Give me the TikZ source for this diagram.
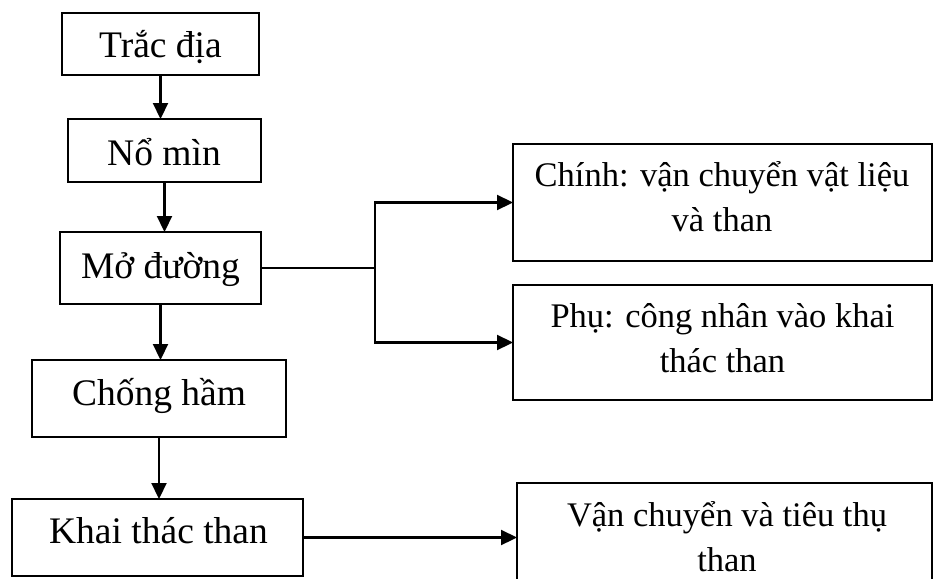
\documentclass[tikz,border=0pt]{standalone}
\usepackage{fontspec}
\setmainfont{Liberation Serif}
\usetikzlibrary{arrows.meta}
\begin{document}
\begin{tikzpicture}[x=1pt,y=-1pt,
  box/.style={draw, line width=2.2pt, inner sep=0pt, outer sep=0pt},
  lbl/.style={font=\fontsize{37.5}{44}\selectfont, inner sep=0pt, anchor=base},
  rlbl/.style={font=\fontsize{34.5}{45}\selectfont, inner sep=0pt, anchor=base, align=center},
  link/.style={line width=2.2pt, -{Triangle[length=16pt,width=15pt]}},
  wire/.style={line width=2.2pt}]
\useasboundingbox (0,0) rectangle (933,578);
\clip (0,0) rectangle (933,578);

% process chain on the left
\node[box, minimum width=197, minimum height=62] (b1) at (160.5,44) {};
\node[box, minimum width=193, minimum height=63] (b2) at (164.5,150.5) {};
\node[box, minimum width=201, minimum height=72] (b3) at (160.5,268) {};
\node[box, minimum width=254, minimum height=77] (b6) at (159,398.5) {};
\node[box, minimum width=291, minimum height=77] (b7) at (157.5,537.5) {};

\node[lbl] (t1) at (160.5,58) {Trắc địa};
\node[lbl] (t2) at (164,165) {Nổ mìn};
\node[lbl] (t3) at (160.5,278) {Mở đường};
\node[lbl] (t6) at (159,405) {Chống hầm};
\node[lbl] (t7) at (158.5,543) {Khai thác than};

% outcome boxes on the right (base anchor sits on the last line)
\node[box, minimum width=419, minimum height=117] (b4) at (722.5,202.5) {};
\node[box, minimum width=419, minimum height=115] (b5) at (722.5,342.5) {};
\node[box, minimum width=415, minimum height=117] (b8) at (724.5,541.5) {};

\node[rlbl] (t4) at (722,231) {Chính: vận chuyển vật liệu\\và than};
\node[rlbl] (t5) at (722.5,372) {Phụ: công nhân vào khai\\thác than};
\node[rlbl] (t8) at (727,571) {Vận chuyển và tiêu thụ\\than};

% connectors
\draw[link] (b1.south) -- (b1.south |- b2.north);
\draw[link] (b2.south) -- (b2.south |- b3.north);
\draw[link] (b3.south) -- (b3.south |- b6.north);
\draw[link] (b6.south) -- (b6.south |- b7.north);

\coordinate (fork) at (375,268);
\draw[wire] (b3.east) -- (fork);
\draw[link] (fork) |- (b4.west);
\draw[link] (fork) |- (b5.west);

\draw[link] (b7.east) -- (b7.east -| b8.west);
\end{tikzpicture}
\end{document}
